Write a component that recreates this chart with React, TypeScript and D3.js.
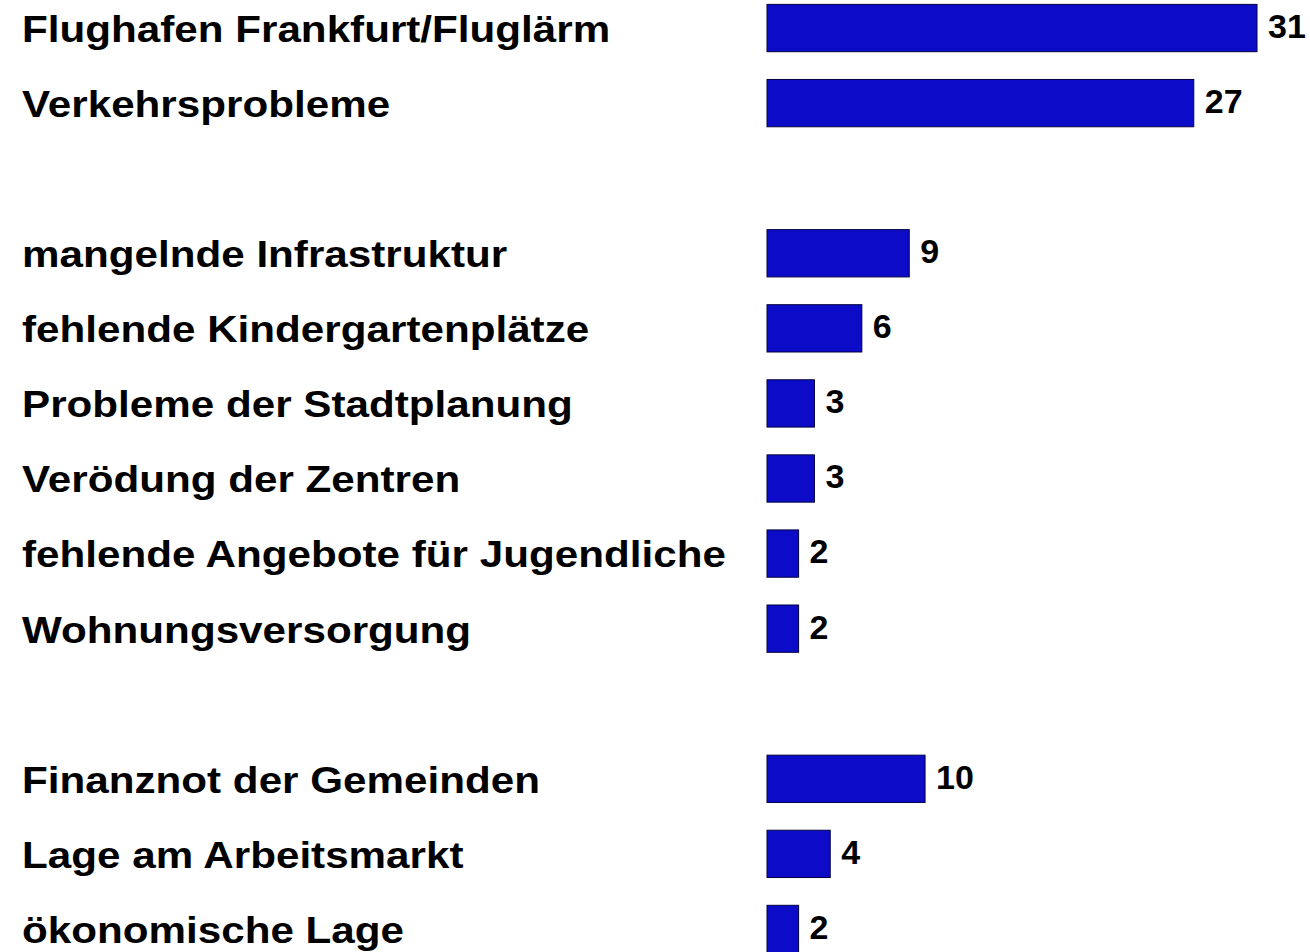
import React from "react";
import * as d3 from "d3";

const categories = [
  "Flughafen Frankfurt/Fluglärm",
  "Verkehrsprobleme",
  "",
  "mangelnde Infrastruktur",
  "fehlende Kindergartenplätze",
  "Probleme der Stadtplanung",
  "Verödung der Zentren",
  "fehlende Angebote für Jugendliche",
  "Wohnungsversorgung",
  "",
  "Finanznot der Gemeinden",
  "Lage am Arbeitsmarkt",
  "ökonomische Lage",
];
const values: (number | null)[] = [31, 27, null, 9, 6, 3, 3, 2, 2, null, 10, 4, 2];

const W = 1310;
const H = 952;

export default function App() {
  const x = d3.scaleLinear().domain([0, 31]).range([767, 1257]);
  const y = d3
    .scaleBand()
    .domain(categories.map((_, i) => String(i)))
    .range([-9.5, 966.5])
    .paddingInner(0.37)
    .paddingOuter(0.185);
  const bw = y.bandwidth();
  return (
    <svg
      width={W}
      height={H}
      style={{ position: "absolute", left: 0, top: 0, background: "#fff" }}
      fontFamily="'Liberation Sans', Arial, sans-serif"
      fontWeight="bold"
    >
      {categories.map((c, i) => {
        const v = values[i];
        const cy = (y(String(i)) as number) + bw / 2;
        if (v == null) return null;
        return (
          <g key={i}>
            <text
              transform={`translate(22,${cy}) scale(1.125,1)`}
              dy="0.37em"
              fontSize={37.5}
              fill="#000"
            >
              {c}
            </text>
            <rect
              x={x(0)}
              y={cy - bw / 2}
              width={x(v) - x(0)}
              height={bw}
              fill="#0c0cc8"
              stroke="#000040"
              strokeWidth={1}
            />
            <text x={x(v) + 11} y={cy} dy="0.29em" fontSize={34} fill="#000">
              {v}
            </text>
          </g>
        );
      })}
    </svg>
  );
}
